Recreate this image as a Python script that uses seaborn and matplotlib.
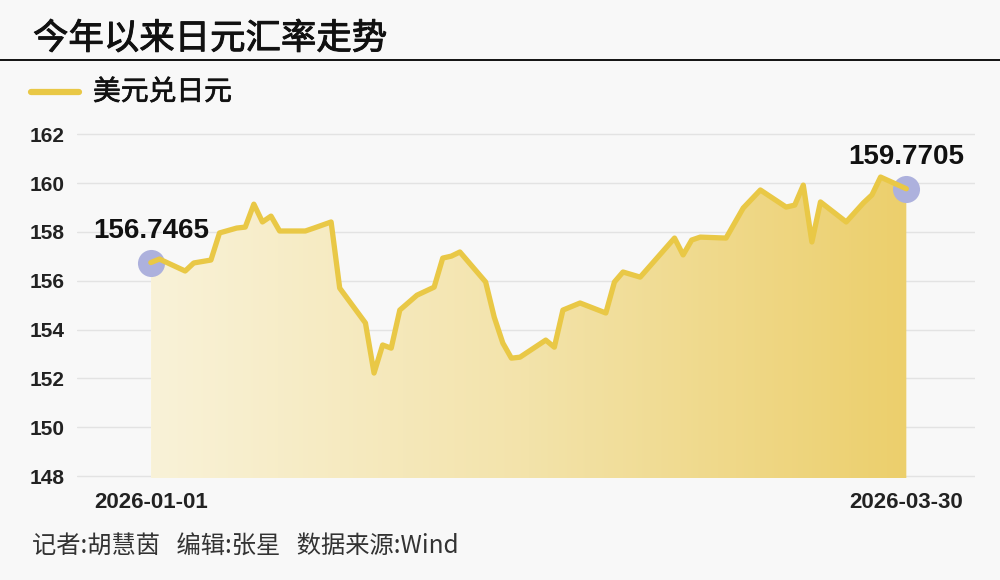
import numpy as np
import pandas as pd
import matplotlib
matplotlib.use("Agg")
import matplotlib.pyplot as plt
import seaborn as sns
from matplotlib import font_manager
from matplotlib import patheffects as pe
from matplotlib.colors import LinearSegmentedColormap
from matplotlib.lines import Line2D

# 数据: 美元兑日元
dates = ["2026-01-01", "2026-01-02", "2026-01-05", "2026-01-06", "2026-01-08",
         "2026-01-09", "2026-01-11", "2026-01-12", "2026-01-13", "2026-01-14",
         "2026-01-15", "2026-01-16", "2026-01-19", "2026-01-20", "2026-01-22",
         "2026-01-23", "2026-01-26", "2026-01-27", "2026-01-28", "2026-01-29",
         "2026-01-30", "2026-02-01", "2026-02-03", "2026-02-04", "2026-02-05",
         "2026-02-06", "2026-02-09", "2026-02-10", "2026-02-11", "2026-02-12",
         "2026-02-13", "2026-02-16", "2026-02-17", "2026-02-18", "2026-02-20",
         "2026-02-23", "2026-02-24", "2026-02-25", "2026-02-27", "2026-03-03",
         "2026-03-04", "2026-03-05", "2026-03-06", "2026-03-09", "2026-03-11",
         "2026-03-13", "2026-03-16", "2026-03-17", "2026-03-18", "2026-03-19",
         "2026-03-20", "2026-03-23", "2026-03-25", "2026-03-26", "2026-03-27",
         "2026-03-30"]
usdjpy = [156.7465, 156.89, 156.40, 156.73, 156.85,
          157.96, 158.16, 158.20, 159.14, 158.41,
          158.65, 158.04, 158.04, 158.16, 158.41,
          155.70, 154.27, 152.22, 153.37, 153.24,
          154.80, 155.41, 155.74, 156.93, 157.01,
          157.18, 155.95, 154.51, 153.45, 152.83,
          152.87, 153.57, 153.28, 154.80, 155.09,
          154.68, 155.95, 156.36, 156.15, 157.75,
          157.06, 157.67, 157.79, 157.75, 158.98,
          159.72, 159.02, 159.10, 159.92, 157.59,
          159.23, 158.41, 159.19, 159.52, 160.25,
          159.7705]
series_name = "美元兑日元"
y_ticks = [148, 150, 152, 154, 156, 158, 160, 162]

df = pd.DataFrame({"date": pd.to_datetime(dates), "value": usdjpy})
df["day"] = (df["date"] - df["date"].iloc[0]).dt.days

sns.set_theme(style="white")
cjk = ["Noto Sans CJK SC", "DejaVu Sans"]
plt.rcParams["font.family"] = cjk

# 数字用 Arial Narrow 类字体; 没有就用 Liberation Sans 粗体并缩小字号
narrow = None
for f in font_manager.fontManager.ttflist:
    if "liberationsansnarrow-bold." in f.fname.lower():
        narrow = f.fname
        break
if narrow:
    num_fp = lambda size: font_manager.FontProperties(fname=narrow, size=size * 1.15)
else:
    num_fp = lambda size: font_manager.FontProperties(family="Liberation Sans",
                                                      weight="bold", size=size)

bg = "#F8F8F8"
line_c = "#E9C846"
semi_bold = [pe.withStroke(linewidth=0.7, foreground="#111111")]

fig = plt.figure(figsize=(10, 5.8), dpi=100, facecolor=bg)
ax = fig.add_axes([0.077, 0.175, 0.898, 0.5976])
ax.set_facecolor(bg)

x0, x1 = df["day"].min(), df["day"].max()
ax.set_xlim(x0 - 8.6, x1 + 8.0)
ax.set_ylim(147.9, 162.1)

# 渐变填充
poly = ax.fill_between(df["day"], df["value"], 147.9, color="none", lw=0)
cmap = LinearSegmentedColormap.from_list("gold", ["#F9F2D8", "#F3E3AA", "#ECCF6C"])
grad = np.linspace(0, 1, 256).reshape(1, -1)
im = ax.imshow(grad, cmap=cmap, aspect="auto", extent=[x0, x1, 147.9, 162.1],
               origin="lower", zorder=1)
im.set_clip_path(poly.get_paths()[0], transform=ax.transData)

# 网格
for v in y_ticks:
    ax.axhline(v, color="#E3E3E3", lw=1, zorder=0)

# 首尾圆点
ends = df.iloc[[0, -1]]
ax.scatter(ends["day"], ends["value"], s=380, color="#ADB1DD", zorder=2, linewidths=0)

sns.lineplot(data=df, x="day", y="value", ax=ax, color=line_c, lw=3.8, zorder=3,
             legend=False)

for _, r in ends.iterrows():
    ax.annotate(f"{r['value']:.4f}", (r["day"], r["value"]), xytext=(0, 32),
                textcoords="offset pixels", ha="center", va="center",
                fontproperties=num_fp(20), color="#111111", zorder=5)

ax.set_yticks(y_ticks)
ax.set_yticklabels([str(v) for v in y_ticks], fontproperties=num_fp(15),
                   color="#222222")
ax.set_xticks([x0, x1])
ax.set_xticklabels([dates[0], dates[-1]], fontproperties=num_fp(16),
                   color="#222222")
ax.tick_params(axis="y", length=0, pad=9)
ax.tick_params(axis="x", length=0, pad=10)
ax.set_xlabel("")
ax.set_ylabel("")
for s in ax.spines.values():
    s.set_visible(False)

# 标题、分隔线、图例、脚注
fig.text(0.033, 1 - 39 / 580, "今年以来日元汇率走势", fontsize=25.5,
         va="center", ha="left", color="#111111", path_effects=semi_bold)
fig.add_artist(Line2D([0, 1], [1 - 60 / 580] * 2, color="#111111", lw=1.4))
fig.add_artist(Line2D([0.031, 0.079], [1 - 92 / 580] * 2, color=line_c, lw=4.5,
                      solid_capstyle="round"))
fig.text(0.093, 1 - 92 / 580, series_name, fontsize=20, va="center", ha="left",
         color="#111111", path_effects=[pe.withStroke(linewidth=0.5, foreground="#111111")])
fig.text(0.032, 1 - 547 / 580, "记者:胡慧茵   编辑:张星   数据来源:Wind", fontsize=17.5,
         va="center", ha="left", color="#333333")

fig.savefig("out.png", dpi=100, facecolor=bg)
